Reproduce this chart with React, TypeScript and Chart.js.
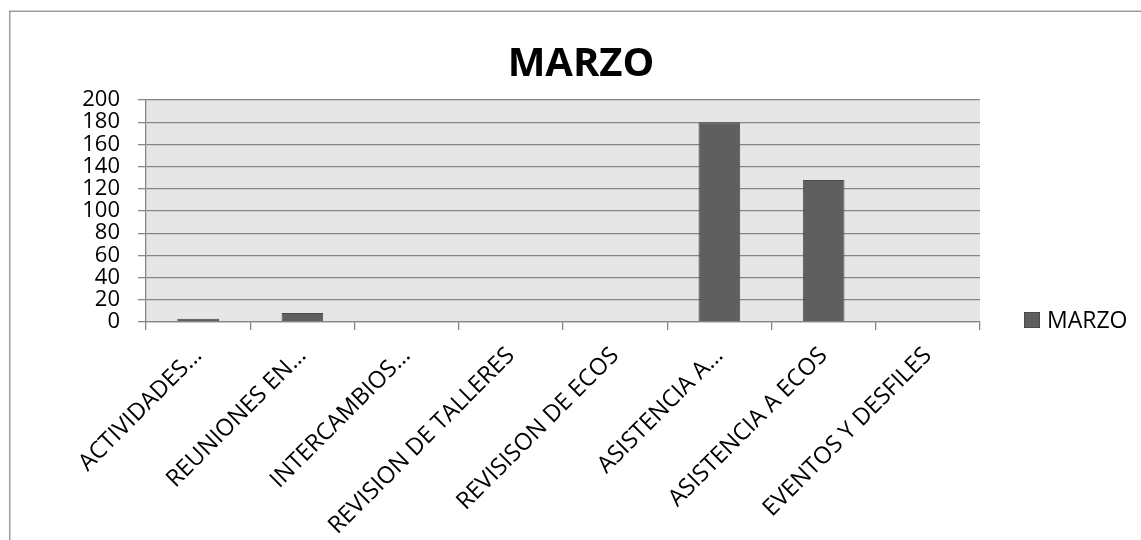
import React, { useEffect, useRef } from "react";
import { Chart, registerables } from "chart.js";

Chart.register(...registerables);

const categories = [
  "ACTIVIDADES…",
  "REUNIONES EN…",
  "INTERCAMBIOS…",
  "REVISION DE TALLERES",
  "REVISISON DE ECOS",
  "ASISTENCIA A…",
  "ASISTENCIA A ECOS",
  "EVENTOS Y DESFILES",
];
const marzoValues = [3, 8, 0, 0, 0, 180, 128, 0];
const seriesName = "MARZO";
const chartTitle = "MARZO";
const yMin = 0;
const yMax = 200;
const yStep = 20;

const BAR_FILL = "#5f5f5f";
const BAR_BORDER = "#4a4a4a";
const GRID = "#868686";
const PLOT_BG = "#e6e6e6";
const FONT = "'Open Sans', 'DejaVu Sans', sans-serif";

const framePlugin = {
  id: "frameAndBg",
  beforeDraw(chart: any) {
    const { ctx, chartArea } = chart;
    ctx.save();
    ctx.fillStyle = "#ffffff";
    ctx.fillRect(0, 0, chart.width, chart.height);
    ctx.strokeStyle = "#9c9c9c";
    ctx.lineWidth = 1.5;
    ctx.beginPath();
    ctx.moveTo(9.75, chart.height + 2);
    ctx.lineTo(9.75, 11.25);
    ctx.lineTo(chart.width + 2, 11.25);
    ctx.stroke();
    ctx.fillStyle = PLOT_BG;
    ctx.fillRect(chartArea.left, chartArea.top, chartArea.right - chartArea.left, chartArea.bottom - chartArea.top);
    ctx.restore();
  },
};

const legendPlugin = {
  id: "sideLegend",
  afterDraw(chart: any) {
    const { ctx, chartArea } = chart;
    const ds = chart.data.datasets[0];
    const x = chartArea.right + 44;
    const cy = chartArea.bottom - 2;
    ctx.save();
    ctx.fillStyle = ds.backgroundColor;
    ctx.fillRect(x, cy - 8, 16, 16);
    ctx.strokeStyle = ds.borderColor;
    ctx.lineWidth = 1;
    ctx.strokeRect(x + 0.5, cy - 7.5, 15, 15);
    ctx.fillStyle = "#000";
    ctx.font = `23px ${FONT}`;
    ctx.textBaseline = "middle";
    ctx.textAlign = "left";
    ctx.fillText(ds.label, x + 23, cy + 1);
    ctx.restore();
  },
};

export default function App() {
  const ref = useRef<HTMLCanvasElement | null>(null);

  useEffect(() => {
    if (!ref.current) return;
    Chart.defaults.font.family = FONT;
    const chart = new Chart(ref.current, {
      type: "bar",
      data: {
        labels: categories,
        datasets: [
          {
            label: seriesName,
            data: marzoValues,
            backgroundColor: BAR_FILL,
            borderColor: BAR_BORDER,
            borderWidth: 1,
            barPercentage: 0.4,
            categoryPercentage: 1,
            yAxisID: "y",
          },
        ],
      },
      options: {
        responsive: false,
        animation: false,
        devicePixelRatio: 1,
        layout: { padding: { left: 21, right: 0, top: 0, bottom: 0 } },
        plugins: {
          legend: { display: false },
          tooltip: { enabled: false },
          title: {
            display: true,
            text: chartTitle,
            color: "#000",
            font: { family: FONT, size: 40, weight: "bold" },
            padding: { top: 41, bottom: 11 },
          },
        },
        scales: {
          x: {
            grid: {
              display: true,
              offset: true,
              drawOnChartArea: false,
              drawTicks: true,
              tickLength: 8,
              color: GRID,
              lineWidth: 1.3,
            },
            border: { display: true, color: GRID, width: 1.3 },
            ticks: {
              autoSkip: false,
              minRotation: 45,
              maxRotation: 45,
              color: "#000",
              font: { family: FONT, size: 23.5 },
              padding: 12,
            },
            afterFit: (s: any) => {
              s.height = 218;
            },
          },
          y: {
            position: "left",
            min: yMin,
            max: yMax,
            grid: {
              color: GRID,
              lineWidth: 1.3,
              drawTicks: true,
              tickLength: 8,
            },
            border: { display: true, color: GRID, width: 1.3 },
            ticks: {
              stepSize: yStep,
              autoSkip: false,
              color: "#000",
              font: { family: FONT, size: 22, lineHeight: 1 },
              padding: 18,
            },
            afterFit: (s: any) => {
              s.width = 125;
            },
          },
          yR: {
            type: "linear",
            position: "right",
            display: true,
            grid: { display: false, drawTicks: false },
            border: { display: false },
            ticks: { display: false },
            afterFit: (s: any) => {
              s.width = 161;
            },
          },
        },
      },
      plugins: [framePlugin, legendPlugin],
    });
    return () => chart.destroy();
  }, []);

  return (
    <div style={{ position: "fixed", left: 0, top: 0, width: 1141, height: 540, background: "#fff" }}>
      <canvas ref={ref} width={1141} height={540} style={{ display: "block" }} />
    </div>
  );
}
